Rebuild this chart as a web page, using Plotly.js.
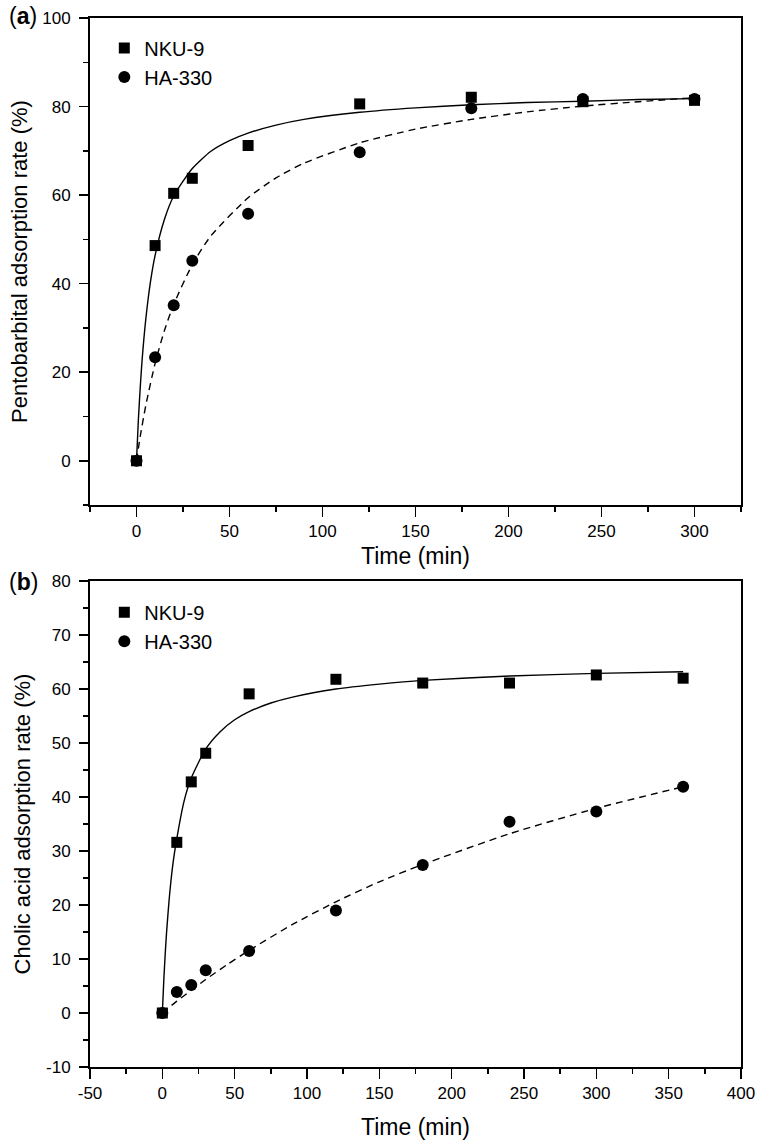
<!DOCTYPE html>
<html>
<head>
<meta charset="utf-8">
<script src="https://cdn.plot.ly/plotly-3.0.1.min.js"></script>
<style>html,body{margin:0;padding:0;background:#fff;}#chart{width:760px;height:1143px;}</style>
</head>
<body>
<div id="chart"></div>
<script>
// ---- Panel (a): pentobarbital ----
const timeA = [0, 10, 20, 30, 60, 120, 180, 240, 300];
const nkuA = [0, 48.6, 60.4, 63.8, 71.2, 80.6, 82.1, 81.1, 81.4];
const haA = [0, 23.4, 35.1, 45.2, 55.8, 69.7, 79.6, 81.7, 81.7];
const fitTimeNkuA = [0, 1, 2, 3, 5, 7.5, 10, 15, 20, 30, 40, 50, 60, 75, 90, 120, 150, 180, 210, 240, 270, 300];
const fitNkuA = [0, 9.2, 16.5, 22.7, 32, 40.4, 46.4, 54.5, 59.8, 66, 69.9, 72.3, 74, 75.8, 77.1, 78.7, 79.7, 80.4, 80.9, 81.2, 81.6, 81.8];
const fitTimeHaA = [0, 2, 5, 10, 15, 20, 30, 40, 60, 75, 90, 120, 150, 180, 210, 240, 270, 300];
const fitHaA = [0, 5.5, 12.5, 22, 29.4, 35.3, 44.3, 50.8, 59.4, 63.9, 67.2, 71.8, 74.9, 77.1, 78.8, 80.1, 81.1, 82];

// ---- Panel (b): cholic acid ----
const timeB = [0, 10, 20, 30, 60, 120, 180, 240, 300, 360];
const nkuB = [0, 31.6, 42.8, 48.1, 59.1, 61.8, 61.1, 61.1, 62.6, 62.0];
const haB = [0, 3.9, 5.2, 7.9, 11.5, 19.0, 27.4, 35.4, 37.3, 41.9];
const fitTimeNkuB = [0, 1, 2, 3, 5, 7.5, 10, 15, 20, 30, 40, 50, 60, 75, 90, 120, 150, 180, 240, 300, 360];
const fitNkuB = [0, 6, 11, 15.2, 21.9, 28, 32.3, 39.2, 43.5, 48.9, 52.1, 54.3, 55.8, 57.4, 58.5, 60, 60.9, 61.6, 62.4, 62.9, 63.2];
const fitTimeHaB = [0, 10, 20, 30, 45, 60, 90, 120, 150, 180, 240, 300, 360];
const fitHaB = [0, 2.2, 4.2, 6.2, 9.0, 11.6, 16.4, 20.6, 24.3, 27.5, 33.2, 37.9, 41.9];

// ---- Tick labels ----
const xTicksA = [0, 50, 100, 150, 200, 250, 300];
const yTicksA = [0, 20, 40, 60, 80, 100];
const xTicksB = [-50, 0, 50, 100, 150, 200, 250, 300, 350, 400];
const yTicksB = [-10, 0, 10, 20, 30, 40, 50, 60, 70, 80];

const seriesNames = ['NKU-9', 'HA-330'];
const titleA = 'Pentobarbital adsorption rate (%)';
const titleB = 'Cholic acid adsorption rate (%)';
const xTitle = 'Time (min)';

const sans = 'Liberation Sans, Arial, Helvetica, sans-serif';
const black = '#000000';

const solid = {color: black, width: 1.4, shape: 'spline', smoothing: 0.6};
const dashed = {color: black, width: 1.4, dash: '7px,5px', shape: 'spline', smoothing: 0.6};

const traces = [
  {x: fitTimeNkuA, y: fitNkuA, mode: 'lines', line: solid, showlegend: false, hoverinfo: 'skip', xaxis: 'x', yaxis: 'y'},
  {x: fitTimeHaA, y: fitHaA, mode: 'lines', line: dashed, showlegend: false, hoverinfo: 'skip', xaxis: 'x', yaxis: 'y'},
  {x: timeA, y: nkuA, name: seriesNames[0], mode: 'markers', marker: {symbol: 'square', size: 11, color: black}, xaxis: 'x', yaxis: 'y', legend: 'legend'},
  {x: timeA, y: haA, name: seriesNames[1], mode: 'markers', marker: {symbol: 'circle', size: 12, color: black}, xaxis: 'x', yaxis: 'y', legend: 'legend'},
  {x: fitTimeNkuB, y: fitNkuB, mode: 'lines', line: solid, showlegend: false, hoverinfo: 'skip', xaxis: 'x2', yaxis: 'y2'},
  {x: fitTimeHaB, y: fitHaB, mode: 'lines', line: dashed, showlegend: false, hoverinfo: 'skip', xaxis: 'x2', yaxis: 'y2'},
  {x: timeB, y: nkuB, name: seriesNames[0], mode: 'markers', marker: {symbol: 'square', size: 11, color: black}, xaxis: 'x2', yaxis: 'y2', legend: 'legend2'},
  {x: timeB, y: haB, name: seriesNames[1], mode: 'markers', marker: {symbol: 'circle', size: 12, color: black}, xaxis: 'x2', yaxis: 'y2', legend: 'legend2'}
];

function baseAxis(range, ticks, minorDtick, ticklen) {
  return {
    range: range, tickmode: 'array', tickvals: ticks, ticktext: ticks.map(String),
    ticks: 'outside', ticklen: ticklen, tickwidth: 1.5, tickcolor: black,
    minor: {tickmode: 'linear', tick0: 0, dtick: minorDtick, ticks: 'outside', ticklen: 5, tickwidth: 1.5, tickcolor: black, showgrid: false},
    showline: true, linewidth: 2, linecolor: black, mirror: true,
    showgrid: false, zeroline: false,
    tickfont: {family: sans, size: 17, color: black}
  };
}
function xAxis(range, ticks, anchor, standoff) {
  return Object.assign(baseAxis(range, ticks, 25, 10), {
    anchor: anchor, domain: [0, 1],
    title: {text: xTitle, font: {family: sans, size: 23, color: black}, standoff: standoff}
  });
}
function yAxis(range, ticks, minorDtick, domain, anchor, title) {
  return Object.assign(baseAxis(range, ticks, minorDtick, 9), {
    anchor: anchor, domain: domain, ticklabelstandoff: 5,
    title: {text: title, font: {family: sans, size: 22, color: black}, standoff: 9}
  });
}

const legendStyle = {
  xanchor: 'left', yanchor: 'top', bgcolor: 'rgba(0,0,0,0)', borderwidth: 0,
  font: {family: sans, size: 20, color: black}, tracegroupgap: 0
};

const layout = {
  width: 760, height: 1143,
  margin: {l: 90, r: 19, t: 18, b: 76},
  paper_bgcolor: '#ffffff', plot_bgcolor: '#ffffff',
  showlegend: true,
  xaxis: xAxis([-25, 325], xTicksA, 'y', 7),
  yaxis: yAxis([-10, 100], yTicksA, 10, [0.5357, 1], 'x', titleA),
  xaxis2: xAxis([-50, 400], xTicksB, 'y2', 16),
  yaxis2: yAxis([-10, 80], yTicksB, 5, [0, 0.4633], 'x2', titleB),
  legend: Object.assign({x: 0.022, y: 0.99}, legendStyle),
  legend2: Object.assign({x: 0.022, y: 0.452}, legendStyle),
  annotations: [
    {text: '(<b>a</b>)', xref: 'paper', yref: 'paper', x: -0.128, y: 1.002, xanchor: 'left', yanchor: 'middle', showarrow: false, font: {family: sans, size: 23, color: black}},
    {text: '(<b>b</b>)', xref: 'paper', yref: 'paper', x: -0.128, y: 0.4623, xanchor: 'left', yanchor: 'middle', showarrow: false, font: {family: sans, size: 23, color: black}}
  ]
};

Plotly.newPlot('chart', traces, layout, {displayModeBar: false, staticPlot: true});
</script>
</body>
</html>
